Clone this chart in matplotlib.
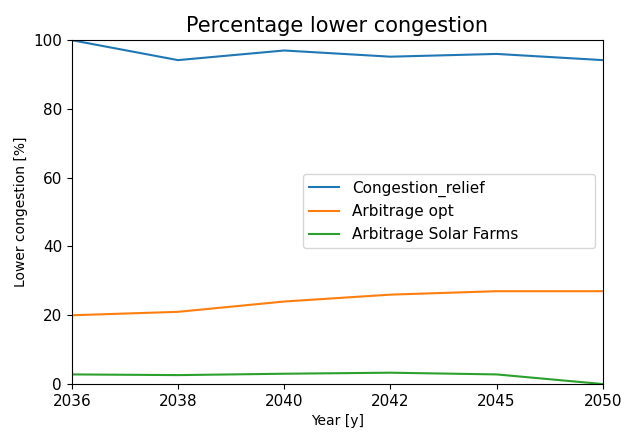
import matplotlib
matplotlib.use('Agg')
import matplotlib.pyplot as plt

years = ['2036', '2038', '2040', '2042', '2045', '2050']
congestion_relief = [100, 94.2, 97, 95.2, 96, 94.2]
arbitrage_opt = [20, 21, 24, 26, 27, 27]
arbitrage_solar = [2.8, 2.6, 3.0, 3.3, 2.8, 0]

fig = plt.figure(figsize=(6.24, 4.32), dpi=100)
ax = fig.add_axes([0.115, 0.111, 0.851, 0.796])
x = range(len(years))
ax.plot(x, congestion_relief, label='Congestion_relief')
ax.plot(x, arbitrage_opt, label='Arbitrage opt')
ax.plot(x, arbitrage_solar, label='Arbitrage Solar Farms')
ax.set_xticks(list(x))
ax.set_xticklabels(years)
ax.set_xlim(0, len(years) - 1)
ax.set_ylim(0, 100)
ax.tick_params(labelsize=11)
ax.set_title('Percentage lower congestion', fontsize=15)
ax.set_xlabel('Year [y]')
ax.set_ylabel('Lower congestion [%]')
# wide legend box, stretched to a fixed span
ax.legend(loc='upper left', bbox_to_anchor=(0.435, 0.61, 0.55, 0.0),
          mode='expand', borderaxespad=0, fontsize=11)
plt.savefig('out.png')
